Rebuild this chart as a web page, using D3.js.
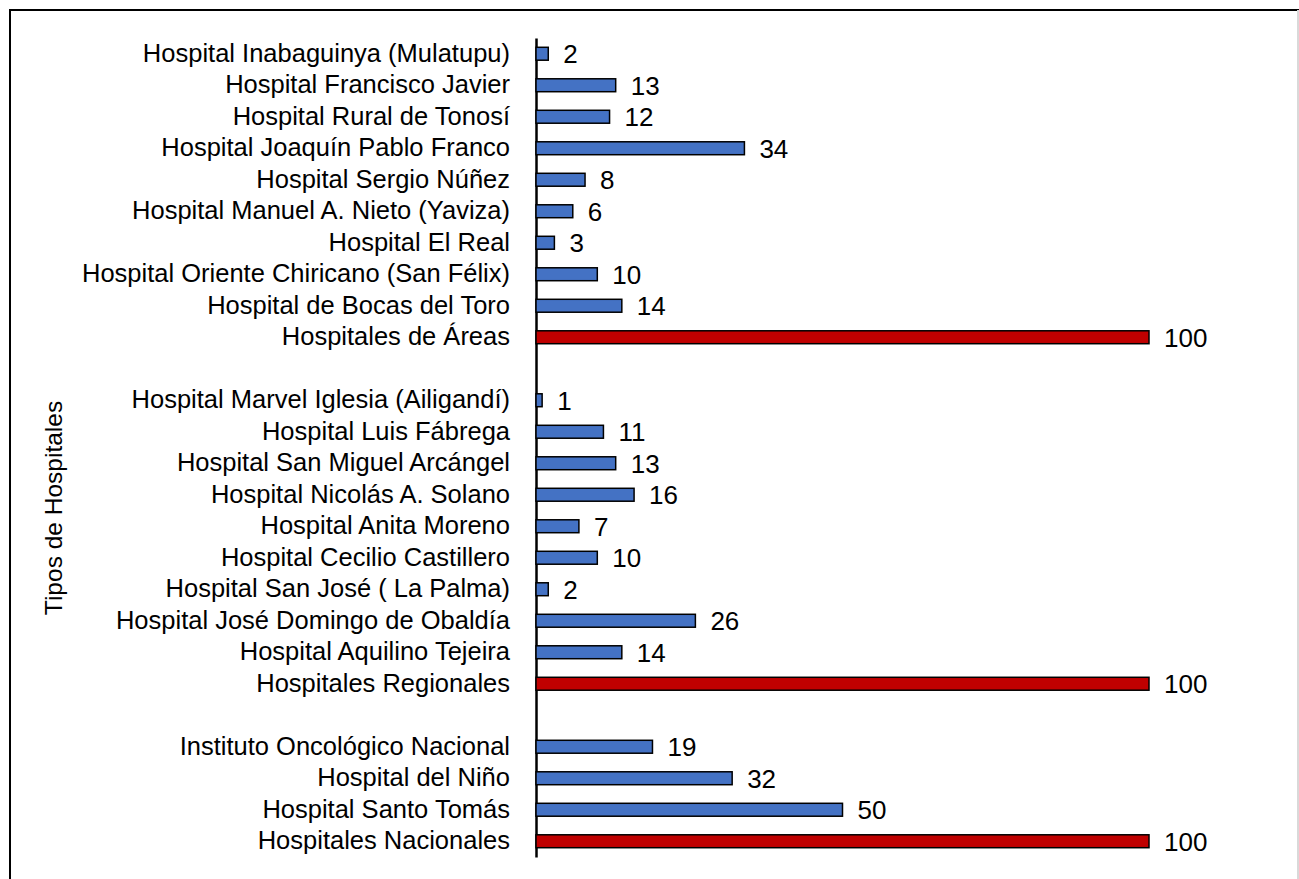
<!DOCTYPE html>
<html>
<head>
<meta charset="utf-8">
<script src="https://cdn.jsdelivr.net/npm/d3@7"></script>
<style>
    body { margin: 0; background: #fff; }
    text { font-family: "Liberation Sans", Arial, sans-serif; }
</style>
</head>
<body>
<div id="chart"></div>
<script>
// filas de arriba hacia abajo; "" = separador entre grupos
const hospitals = [
    "Hospital Inabaguinya (Mulatupu)",
    "Hospital Francisco Javier",
    "Hospital Rural de Tonosí",
    "Hospital Joaquín Pablo Franco",
    "Hospital Sergio Núñez",
    "Hospital Manuel A. Nieto (Yaviza)",
    "Hospital El Real",
    "Hospital Oriente Chiricano (San Félix)",
    "Hospital de Bocas del Toro",
    "Hospitales de Áreas",
    "",
    "Hospital Marvel Iglesia (Ailigandí)",
    "Hospital Luis Fábrega",
    "Hospital San Miguel Arcángel",
    "Hospital Nicolás A. Solano",
    "Hospital Anita Moreno",
    "Hospital Cecilio Castillero",
    "Hospital San José ( La Palma)",
    "Hospital José Domingo de Obaldía",
    "Hospital Aquilino Tejeira",
    "Hospitales Regionales",
    "",
    "Instituto Oncológico Nacional",
    "Hospital del Niño",
    "Hospital Santo Tomás",
    "Hospitales Nacionales"
];
const values = [2, 13, 12, 34, 8, 6, 3, 10, 14, 100,
    null,
    1, 11, 13, 16, 7, 10, 2, 26, 14, 100,
    null,
    19, 32, 50, 100];
const totals = ["Hospitales de Áreas", "Hospitales Regionales", "Hospitales Nacionales"];
const yTitle = "Tipos de Hospitales";

const width = 1299, height = 879;
const rows = hospitals.map((name, i) => ({ key: "r" + i, name: name, value: values[i] }));

const svg = d3.select("#chart").append("svg")
    .attr("width", width)
    .attr("height", height);

// marco
svg.append("rect")
    .attr("x", 10).attr("y", 10)
    .attr("width", 1288).attr("height", 900)
    .attr("fill", "none")
    .attr("stroke", "#000")
    .attr("stroke-width", 2);
svg.append("line")
    .attr("x1", 1298).attr("x2", 1298)
    .attr("y1", 10).attr("y2", height)
    .attr("stroke", "#d9d9d9")
    .attr("stroke-width", 2);

const x = d3.scaleLinear().domain([0, 100]).range([536, 1149]);
const y = d3.scaleBand()
    .domain(rows.map(d => d.key))
    .range([38, 857])
    .paddingInner(0.59)
    .paddingOuter(0.295);

const names = new Map(rows.map(d => [d.key, d.name]));

const axis = svg.append("g")
    .attr("transform", `translate(${x(0)},0)`)
    .call(d3.axisLeft(y).tickSize(0).tickSizeOuter(0).tickPadding(26)
        .tickFormat(k => names.get(k)));
axis.select(".domain").attr("stroke", "#000").attr("stroke-width", 2.5);
axis.selectAll("text")
    .attr("font-family", "Liberation Sans, Arial, sans-serif")
    .attr("font-size", 25.5)
    .attr("fill", "#000");

const bars = rows.filter(d => d.value !== null);

svg.append("g")
    .selectAll("rect")
    .data(bars)
    .join("rect")
    .attr("x", x(0))
    .attr("y", d => y(d.key))
    .attr("width", d => x(d.value) - x(0))
    .attr("height", y.bandwidth())
    .attr("fill", d => totals.includes(d.name) ? "#c00000" : "#4472c4")
    .attr("stroke", "#000")
    .attr("stroke-width", 1.5);

svg.append("g")
    .selectAll("text")
    .data(bars)
    .join("text")
    .attr("x", d => x(d.value) + 15)
    .attr("y", d => y(d.key) + y.bandwidth() / 2)
    .attr("dy", "0.36em")
    .attr("font-size", 26)
    .attr("fill", "#000")
    .text(d => d.value);

svg.append("text")
    .attr("transform", "translate(62,508) rotate(-90)")
    .attr("text-anchor", "middle")
    .attr("font-size", 24.5)
    .attr("fill", "#000")
    .text(yTitle);
</script>
</body>
</html>
